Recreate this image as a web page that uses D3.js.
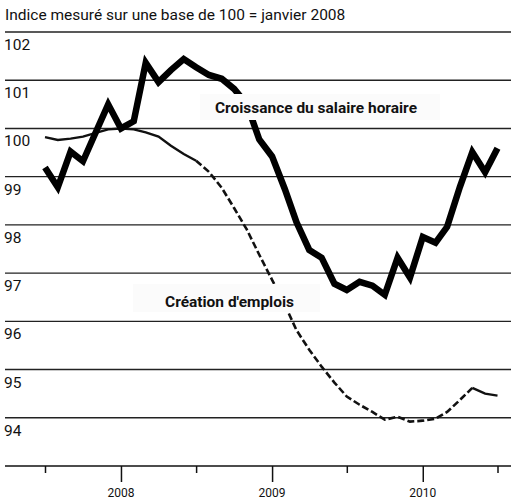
<!DOCTYPE html>
<html>
<head>
<meta charset="utf-8">
<script src="https://cdn.jsdelivr.net/npm/d3@7"></script>
<style>
  body { margin: 0; background: #fff; }
  text { font-family: Roboto, "Liberation Sans", sans-serif; fill: #111; }
</style>
</head>
<body>
<div class="canva"></div>
<script>
// mois, de juillet 2007 a juillet 2010
const months = d3.timeMonths(new Date(2007, 6, 1), new Date(2010, 6, 2))

// indice, base 100 = janvier 2008
const salaire = [99.19, 98.78, 99.52, 99.32, 99.92, 100.50,
  100.0, 100.15, 101.36, 100.96, 101.21, 101.44, 101.27, 101.11, 101.03, 100.82, 100.50, 99.77,
  99.42, 98.74, 98.06, 97.48, 97.32, 96.78, 96.65, 96.82, 96.74, 96.55, 97.32, 96.91,
  97.75, 97.63, 97.96, 98.79, 99.51, 99.09, 99.59]

const emplois = [99.82, 99.76, 99.79, 99.83, 99.91, 99.98,
  100.0, 99.98, 99.92, 99.83, 99.64, 99.47, 99.33, 99.10, 98.77, 98.35, 97.90, 97.38,
  96.86, 96.34, 95.82, 95.41, 95.06, 94.73, 94.44, 94.27, 94.12, 93.96, 94.02, 93.92,
  93.94, 93.98, 94.12, 94.37, 94.62, 94.50, 94.46]

const yTicks = [94, 95, 96, 97, 98, 99, 100, 101, 102]
const years = ["2008", "2009", "2010"]

const W = 511, H = 501

const svg = d3.select(".canva").append("svg")
  .attr("width", W).attr("height", H)

const x = d3.scaleTime()
  .domain([new Date(2007, 6, 1), new Date(2010, 6, 1)])
  .range([45, 497.5])

const y = d3.scaleLinear().domain([93, 102]).range([466, 32])

svg.append("text")
  .attr("x", 5).attr("y", 20)
  .style("font-size", "15.5px")
  .text("Indice mesuré sur une base de 100 = janvier 2008")

// lignes horizontales
svg.selectAll(".grid").data(yTicks)
  .enter().append("line")
  .attr("x1", 5).attr("x2", W)
  .attr("y1", d => y(d)).attr("y2", d => y(d))
  .attr("stroke", "#222").attr("stroke-width", 1.4)

svg.selectAll(".ylab").data(yTicks)
  .enter().append("text")
  .attr("x", 4).attr("y", d => y(d) + 18)
  .style("font-size", "15.5px")
  .text(d => d)

// axe du bas
const tickDates = months.filter(d => d.getMonth() % 6 == 0)
const axis = svg.append("g")
  .attr("transform", "translate(0," + y(93) + ")")
  .call(d3.axisBottom(x).tickValues(tickDates).tickSize(7).tickFormat(""))
axis.select(".domain").remove()
axis.selectAll(".tick line")
  .attr("stroke", "#111").attr("stroke-width", 1.5)
  .attr("y2", d => d.getMonth() == 0 ? 16 : 7)

svg.append("line")
  .attr("x1", 5).attr("x2", W)
  .attr("y1", y(93)).attr("y2", y(93))
  .attr("stroke", "#111").attr("stroke-width", 1.6)

svg.selectAll(".xlab").data(years)
  .enter().append("text")
  .attr("x", d => x(new Date(+d, 0, 1)))
  .attr("y", 497)
  .attr("text-anchor", "middle")
  .style("font-size", "12px")
  .text(d => d)

const line = d3.line()
  .x((d, i) => x(months[i]))
  .y(d => y(d))

// creation d'emplois : plein, puis tirets, puis plein
const empLine = d3.line()
  .x(d => x(months[d]))
  .y(d => y(emplois[d]))
const idx = d3.range(months.length)
svg.append("path")
  .attr("d", empLine(idx.slice(0, 13)))
  .attr("fill", "none").attr("stroke", "#111").attr("stroke-width", 2.4)
svg.append("path")
  .attr("d", empLine(idx.slice(12, 35)))
  .attr("fill", "none").attr("stroke", "#111").attr("stroke-width", 2.6)
  .attr("stroke-dasharray", "7,3")
svg.append("path")
  .attr("d", empLine(idx.slice(34)))
  .attr("fill", "none").attr("stroke", "#111").attr("stroke-width", 2.4)

svg.append("path")
  .attr("d", line(salaire))
  .attr("fill", "none").attr("stroke", "#000")
  .attr("stroke-width", 6.5).attr("stroke-linejoin", "miter")

// etiquettes
svg.append("rect")
  .attr("x", 200).attr("y", 94).attr("width", 240).attr("height", 26)
  .attr("fill", "#fbfbfb")
svg.append("text")
  .attr("x", 215).attr("y", 113)
  .style("font-size", "15px").style("font-weight", "bold")
  .attr("textLength", 202).attr("lengthAdjust", "spacingAndGlyphs")
  .text("Croissance du salaire horaire")

svg.append("rect")
  .attr("x", 133).attr("y", 284).attr("width", 187).attr("height", 28)
  .attr("fill", "#fbfbfb")
svg.append("text")
  .attr("x", 165).attr("y", 307)
  .style("font-size", "15px").style("font-weight", "bold")
  .attr("textLength", 129).attr("lengthAdjust", "spacingAndGlyphs")
  .text("Création d'emplois")
</script>
</body>
</html>
